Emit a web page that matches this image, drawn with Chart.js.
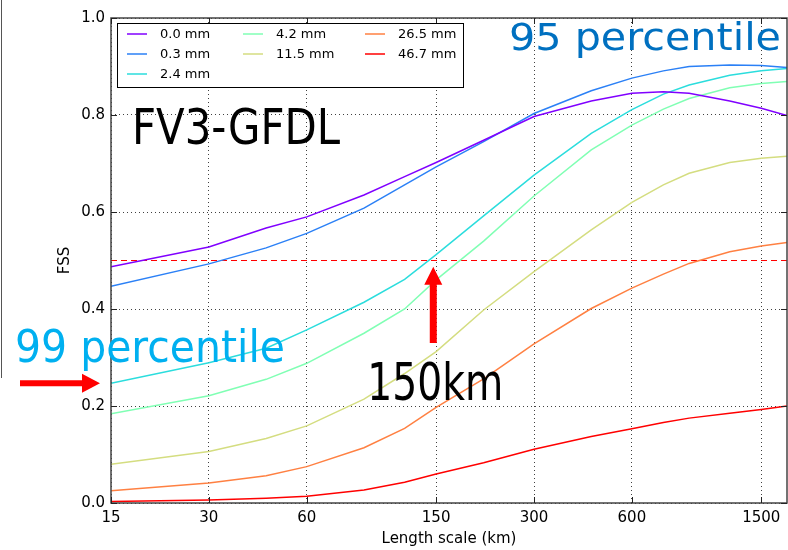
<!DOCTYPE html>
<html>
<head>
<meta charset="utf-8">
<script src="https://cdn.jsdelivr.net/npm/chart.js@4.4.1/dist/chart.umd.min.js"></script>
<style>
  html, body { margin: 0; padding: 0; background: #fff; }
  #wrap { position: relative; width: 788px; height: 550px; }
  #edge { position: absolute; left: 1px; top: 0; width: 0; height: 378px; border-left: 1.5px solid #555; }
</style>
</head>
<body>
<div id="wrap">
  <canvas id="fssChart" width="788" height="550"></canvas>
  <div id="edge"></div>
</div>
<script>
// neighbourhood length scales (km)
const lengthScales = [15, 30, 45, 60, 90, 120, 150, 210, 300, 450, 600, 750, 900, 1200, 1500, 1800];
const xTickValues = [15, 30, 60, 150, 300, 600, 1500];
const yTickValues = [0, 0.2, 0.4, 0.6, 0.8, 1.0];
const rainLabels = ["0.0 mm", "0.3 mm", "2.4 mm", "4.2 mm", "11.5 mm", "26.5 mm", "46.7 mm"];

// FSS per threshold
const fss00 = [0.487, 0.528, 0.567, 0.590, 0.635, 0.673, 0.702, 0.748, 0.797, 0.829, 0.845, 0.848, 0.845, 0.829, 0.814, 0.799];
const fss03 = [0.447, 0.493, 0.526, 0.556, 0.608, 0.656, 0.693, 0.745, 0.803, 0.850, 0.876, 0.891, 0.900, 0.903, 0.902, 0.898];
const fss24 = [0.247, 0.289, 0.319, 0.357, 0.414, 0.461, 0.512, 0.592, 0.676, 0.762, 0.811, 0.843, 0.862, 0.882, 0.891, 0.896];
const fss42 = [0.184, 0.221, 0.255, 0.288, 0.350, 0.400, 0.460, 0.540, 0.633, 0.728, 0.779, 0.812, 0.834, 0.856, 0.865, 0.869];
const fss115 = [0.080, 0.106, 0.133, 0.159, 0.214, 0.267, 0.312, 0.398, 0.477, 0.563, 0.620, 0.656, 0.680, 0.702, 0.711, 0.715];
const fss265 = [0.025, 0.041, 0.056, 0.075, 0.114, 0.154, 0.197, 0.256, 0.328, 0.401, 0.443, 0.472, 0.494, 0.518, 0.530, 0.537];
const fss467 = [0.003, 0.006, 0.010, 0.014, 0.027, 0.043, 0.060, 0.083, 0.111, 0.137, 0.153, 0.166, 0.175, 0.185, 0.193, 0.200];

// useful-skill reference line
const refX = [15, 1800];
const refFss = [0.5, 0.5];

const lineColors = ["#8000ff", "#2b80f6", "#2bdddd", "#80ffb4", "#d4dd80", "#ff8042", "#ff0000"];
const series = [fss00, fss03, fss24, fss42, fss115, fss265, fss467];

// legend slots: matplotlib ncol=3 fills 3, 2, 2
const legendCol = [0, 0, 0, 1, 1, 2, 2];
const legendRow = [0, 1, 2, 0, 1, 0, 1];

Chart.defaults.font.family = "DejaVu Sans";
Chart.defaults.color = "#000";

const datasets = series.map((vals, i) => ({
  label: rainLabels[i],
  data: vals.map((v, j) => ({ x: lengthScales[j], y: v })),
  borderColor: lineColors[i],
  borderWidth: 1.5,
  pointRadius: 0,
  tension: 0,
  fill: false
}));
datasets.push({
  label: "ref",
  data: refX.map((x, j) => ({ x: x, y: refFss[j] })),
  borderColor: "#ff0000",
  borderWidth: 1.2,
  borderDash: [6, 4],
  pointRadius: 0,
  fill: false
});

function drawArrow(ctx, x1, y1, x2, y2, shaft, headW, headL) {
  const ang = Math.atan2(y2 - y1, x2 - x1);
  const len = Math.hypot(x2 - x1, y2 - y1);
  ctx.save();
  ctx.translate(x1, y1);
  ctx.rotate(ang);
  ctx.beginPath();
  ctx.moveTo(0, -shaft / 2);
  ctx.lineTo(len - headL, -shaft / 2);
  ctx.lineTo(len - headL, -headW / 2);
  ctx.lineTo(len, 0);
  ctx.lineTo(len - headL, headW / 2);
  ctx.lineTo(len - headL, shaft / 2);
  ctx.lineTo(0, shaft / 2);
  ctx.closePath();
  ctx.fill();
  ctx.restore();
}

// text of a given size stretched or squeezed to a given width
function fitText(ctx, text, x, y, size, width, align) {
  ctx.save();
  ctx.font = size + "px 'DejaVu Sans'";
  ctx.textAlign = "left";
  ctx.textBaseline = "alphabetic";
  const k = width / ctx.measureText(text).width;
  let left = x;
  if (align === "right") left = x - width;
  if (align === "center") left = x - width / 2;
  ctx.translate(left, y);
  ctx.scale(k, 1);
  ctx.fillText(text, 0, 0);
  ctx.restore();
}

const decorations = {
  id: "decorations",
  afterDraw(chart) {
    const { ctx, chartArea: a, scales: { x, y } } = chart;
    ctx.save();

    // frame
    ctx.strokeStyle = "#444";
    ctx.lineWidth = 1.5;
    ctx.strokeRect(a.left, a.top, a.right - a.left, a.bottom - a.top);

    // inward ticks on all sides
    ctx.strokeStyle = "#222";
    ctx.lineWidth = 1;
    ctx.beginPath();
    xTickValues.forEach(v => {
      const px = Math.round(x.getPixelForValue(v)) + 0.5;
      ctx.moveTo(px, a.bottom); ctx.lineTo(px, a.bottom - 6);
      ctx.moveTo(px, a.top); ctx.lineTo(px, a.top + 6);
    });
    yTickValues.forEach(v => {
      const py = Math.round(y.getPixelForValue(v)) + 0.5;
      ctx.moveTo(a.left, py); ctx.lineTo(a.left + 6, py);
      ctx.moveTo(a.right, py); ctx.lineTo(a.right - 6, py);
    });
    ctx.stroke();

    // legend
    const lx = a.left + 6, ly = a.top + 5;
    ctx.fillStyle = "#fff";
    ctx.fillRect(lx, ly, 346, 64);
    ctx.strokeStyle = "#000";
    ctx.lineWidth = 1;
    ctx.strokeRect(lx + 0.5, ly + 0.5, 346, 64);
    const colX = [10, 126, 248];
    ctx.font = "13px 'DejaVu Sans'";
    ctx.textBaseline = "middle";
    ctx.textAlign = "left";
    chart.data.datasets.slice(0, rainLabels.length).forEach((ds, i) => {
      const cx = lx + colX[legendCol[i]];
      const cy = ly + 11 + legendRow[i] * 20;
      ctx.strokeStyle = ds.borderColor;
      ctx.lineWidth = 1.5;
      ctx.beginPath();
      ctx.moveTo(cx, cy); ctx.lineTo(cx + 20, cy);
      ctx.stroke();
      ctx.fillStyle = "#000";
      ctx.fillText(ds.label, cx + 33, cy + 1);
    });

    // annotations
    ctx.fillStyle = "#000";
    fitText(ctx, "FV3-GFDL", a.left + 21, y.getPixelForValue(0.74), 49, 208, "left");
    ctx.fillStyle = "#0070c0";
    fitText(ctx, "95 percentile", a.right - 6, y.getPixelForValue(0.935), 37, 272, "right");
    ctx.fillStyle = "#00b0f0";
    fitText(ctx, "99 percentile", 15, y.getPixelForValue(0.291), 44, 270, "left");
    ctx.fillStyle = "#000";
    fitText(ctx, "150km", x.getPixelForValue(149), y.getPixelForValue(0.212), 52, 136, "center");

    // arrows
    ctx.fillStyle = "#ff0000";
    const ax = x.getPixelForValue(147);
    drawArrow(ctx, ax, y.getPixelForValue(0.33), ax, y.getPixelForValue(0.487), 7, 18, 18);
    const ay = y.getPixelForValue(0.247);
    drawArrow(ctx, 20, ay, a.left - 11, ay, 6, 19, 18);

    ctx.restore();
  }
};

new Chart(document.getElementById("fssChart").getContext("2d"), {
  type: "line",
  data: { datasets: datasets },
  options: {
    responsive: false,
    animation: false,
    devicePixelRatio: 1,
    layout: { padding: { left: 0, right: 1, top: 18, bottom: 0 } },
    plugins: { legend: { display: false }, tooltip: { enabled: false } },
    scales: {
      x: {
        type: "logarithmic",
        min: 15,
        max: 1800,
        afterBuildTicks: scale => { scale.ticks = xTickValues.map(v => ({ value: v })); },
        afterFit: scale => { scale.height = 47; },
        ticks: {
          autoSkip: false,
          maxRotation: 0,
          padding: 6,
          font: { size: 15 },
          color: "#000",
          callback: v => String(v)
        },
        grid: { color: "rgba(0,0,0,0.75)", lineWidth: 1, drawTicks: false },
        border: { display: false, dash: [1, 3] },
        title: { display: true, text: "Length scale (km)", font: { size: 15 }, color: "#000", padding: { top: 0, bottom: 2 } }
      },
      y: {
        min: 0,
        max: 1,
        afterBuildTicks: scale => { scale.ticks = yTickValues.map(v => ({ value: v })); },
        afterFit: scale => { scale.width = 111; },
        ticks: {
          padding: 6,
          font: { size: 15 },
          color: "#000",
          callback: v => Number(v).toFixed(1)
        },
        grid: { color: "rgba(0,0,0,0.75)", lineWidth: 1, drawTicks: false },
        border: { display: false, dash: [1, 3] },
        title: { display: true, text: "FSS", font: { size: 15 }, color: "#000", padding: { top: 56, bottom: 0 } }
      }
    }
  },
  plugins: [decorations]
});
</script>
</body>
</html>
